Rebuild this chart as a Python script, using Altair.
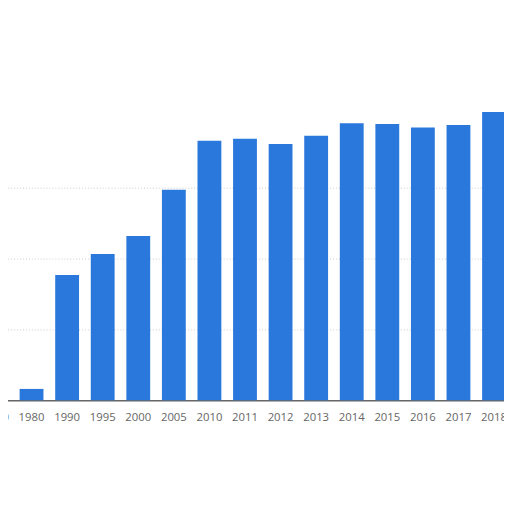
import altair as alt
import pandas as pd

years = ["1970", "1980", "1990", "1995", "2000", "2005", "2010", "2011",
         "2012", "2013", "2014", "2015", "2016", "2017", "2018"]
values = [1.13, 0.8, 8.84, 10.33, 11.6, 14.86, 18.33, 18.47, 18.1, 18.68,
          19.56, 19.51, 19.26, 19.44, 20.35]

df = pd.DataFrame({"year": years, "value": values})

chart = alt.Chart(df).mark_bar(color="#2b78dc").encode(
    x=alt.X("year:N", sort=years,
            scale=alt.Scale(range=[-22.3, 519.95], paddingInner=0.33, paddingOuter=0.165),
            axis=alt.Axis(title=None, labelAngle=0, ticks=False, labelPadding=12,
                          labelFontSize=11.5, labelColor="#666666", labelFont="Open Sans",
                          domainColor="#666666", domainWidth=1.5, grid=False,
                          labelOverlap=False, labelBound=False, labelFlush=False)),
    y=alt.Y("value:Q", scale=alt.Scale(domain=[0, 28], nice=False),
            axis=alt.Axis(title=None, labels=False, ticks=False, domain=False,
                          values=[0, 5, 10, 15], gridColor="#cccccc",
                          gridDash=[1, 2], gridWidth=1)),
).properties(
    width=512, height=403,
    autosize=alt.AutoSizeParams(type="none"),
    padding={"left": -8, "top": -8, "right": 0, "bottom": 50},
).configure_view(stroke=None)

chart.save("out.html", embed_options={"renderer": "svg", "actions": False})
